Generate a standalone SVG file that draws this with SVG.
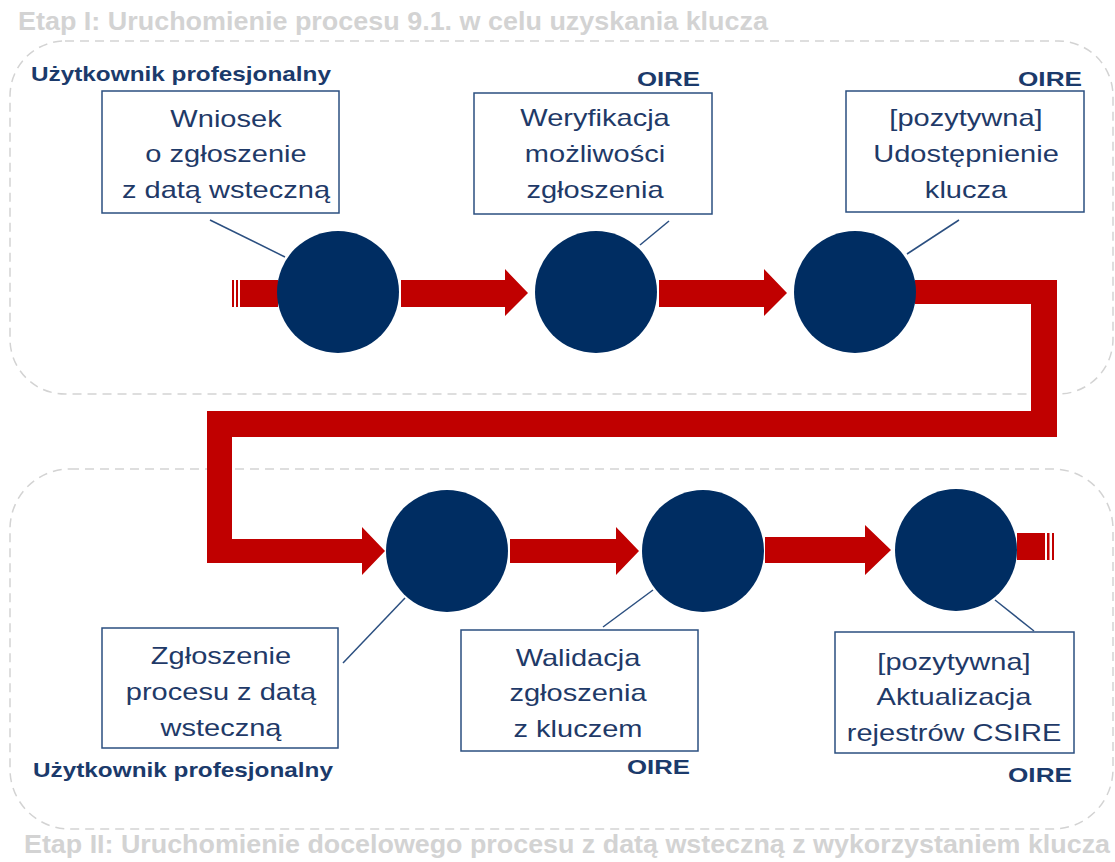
<svg xmlns="http://www.w3.org/2000/svg" width="1115" height="862" viewBox="0 0 1115 862">
<style>
.stage{fill:none;stroke:#d3d3d3;stroke-width:1.5;stroke-dasharray:9 6}
.title{font-family:"Liberation Sans",Arial,sans-serif;font-weight:bold;font-size:25px;fill:#d3d3d3}
.role{font-family:"Liberation Sans",Arial,sans-serif;font-weight:bold;font-size:21px;fill:#1b3a6b}
.box{fill:#fff;stroke:#2b4f80;stroke-width:1.5}
.btxt{font-family:"Liberation Sans",Arial,sans-serif;font-size:24px;fill:#1f3a68;text-anchor:middle}
.circ{fill:#002d62}
.flow{fill:#c00000}
.lead{stroke:#2b4f80;stroke-width:1.5;fill:none}
</style>
<rect width="1115" height="862" fill="#fff"/>
<g id="stages">
<rect class="stage" x="10" y="41" width="1103" height="353" rx="55"/>
<rect class="stage" x="10" y="469" width="1103" height="360" rx="60"/>
<text class="title" x="18" y="30" textLength="750" lengthAdjust="spacingAndGlyphs">Etap I: Uruchomienie procesu 9.1. w celu uzyskania klucza</text>
<text class="title" x="24" y="853" textLength="1086" lengthAdjust="spacingAndGlyphs">Etap II: Uruchomienie docelowego procesu z datą wsteczną z wykorzystaniem klucza</text>
</g>
<g id="connectors">
<g id="flow">
<rect class="flow" x="232" y="280" width="2" height="27"/>
<rect class="flow" x="236" y="280" width="2" height="27"/>
<rect class="flow" x="240" y="280" width="38" height="27"/>
<polygon class="flow" points="401,280 505,280 505,269 528,293 505,316 505,307 401,307"/>
<polygon class="flow" points="659,280 764,280 764,269 787,293 764,316 764,307 659,307"/>
<polygon class="flow" points="915,280 1057,280 1057,437 232,437 232,539 362,539 362,527 385,551 362,575 362,563 207,563 207,411 1031,411 1031,304 915,304"/>
<polygon class="flow" points="510,539 616,539 616,527 639,551 616,575 616,563 510,563"/>
<polygon class="flow" points="765,537 865,537 865,525 891,550 865,575 865,563 765,563"/>
<rect class="flow" x="1017" y="533" width="28" height="27"/>
<rect class="flow" x="1047" y="533" width="2.5" height="27"/>
<rect class="flow" x="1052" y="533" width="2" height="27"/>
</g>
<g id="leaders">
<line class="lead" x1="210" y1="220" x2="285" y2="257"/>
<line class="lead" x1="669" y1="221" x2="640" y2="245"/>
<line class="lead" x1="959" y1="220" x2="907" y2="254"/>
<line class="lead" x1="343" y1="663" x2="405" y2="598"/>
<line class="lead" x1="603" y1="627" x2="653" y2="590"/>
<line class="lead" x1="995" y1="600" x2="1034" y2="631"/>
</g>
</g>
<g id="n1">
<circle class="circ" cx="338" cy="292" r="61"/>
<rect class="box" x="102" y="91" width="237" height="122"/>
<text class="btxt" transform="translate(226,127) scale(1.21,1)"><tspan x="0" y="0">Wniosek</tspan><tspan x="0" y="35.5">o zgłoszenie</tspan><tspan x="0" y="71">z datą wsteczną</tspan></text>
<text class="role" x="31" y="81" textLength="300" lengthAdjust="spacingAndGlyphs">Użytkownik profesjonalny</text>
</g>
<g id="n2">
<circle class="circ" cx="596" cy="292" r="61"/>
<rect class="box" x="474" y="93" width="238" height="121"/>
<text class="btxt" transform="translate(595,126) scale(1.21,1)"><tspan x="0" y="0">Weryfikacja</tspan><tspan x="0" y="36">możliwości</tspan><tspan x="0" y="72">zgłoszenia</tspan></text>
<text class="role" x="637" y="86" textLength="63" lengthAdjust="spacingAndGlyphs">OIRE</text>
</g>
<g id="n3">
<circle class="circ" cx="855" cy="292" r="61"/>
<rect class="box" x="846" y="91" width="238" height="121"/>
<text class="btxt" transform="translate(966,126) scale(1.21,1)"><tspan x="0" y="0">[pozytywna]</tspan><tspan x="0" y="36">Udostępnienie</tspan><tspan x="0" y="72">klucza</tspan></text>
<text class="role" x="1018" y="86" textLength="64" lengthAdjust="spacingAndGlyphs">OIRE</text>
</g>
<g id="n4">
<circle class="circ" cx="447" cy="551" r="61"/>
<rect class="box" x="102" y="628" width="236" height="120"/>
<text class="btxt" transform="translate(221,664) scale(1.21,1)"><tspan x="0" y="0">Zgłoszenie</tspan><tspan x="0" y="36">procesu z datą</tspan><tspan x="0" y="72">wsteczną</tspan></text>
<text class="role" x="33" y="777" textLength="300" lengthAdjust="spacingAndGlyphs">Użytkownik profesjonalny</text>
</g>
<g id="n5">
<circle class="circ" cx="703" cy="551" r="61"/>
<rect class="box" x="461" y="630" width="237" height="121"/>
<text class="btxt" transform="translate(578,666) scale(1.21,1)"><tspan x="0" y="0">Walidacja</tspan><tspan x="0" y="35.5">zgłoszenia</tspan><tspan x="0" y="71">z kluczem</tspan></text>
<text class="role" x="627" y="774" textLength="63" lengthAdjust="spacingAndGlyphs">OIRE</text>
</g>
<g id="n6">
<circle class="circ" cx="956" cy="550" r="61"/>
<rect class="box" x="835" y="632" width="239" height="121"/>
<text class="btxt" transform="translate(954,670) scale(1.21,1)"><tspan x="0" y="0">[pozytywna]</tspan><tspan x="0" y="35.5">Aktualizacja</tspan><tspan x="0" y="71">rejestrów CSIRE</tspan></text>
<text class="role" x="1008" y="782" textLength="64" lengthAdjust="spacingAndGlyphs">OIRE</text>
</g>
</svg>
